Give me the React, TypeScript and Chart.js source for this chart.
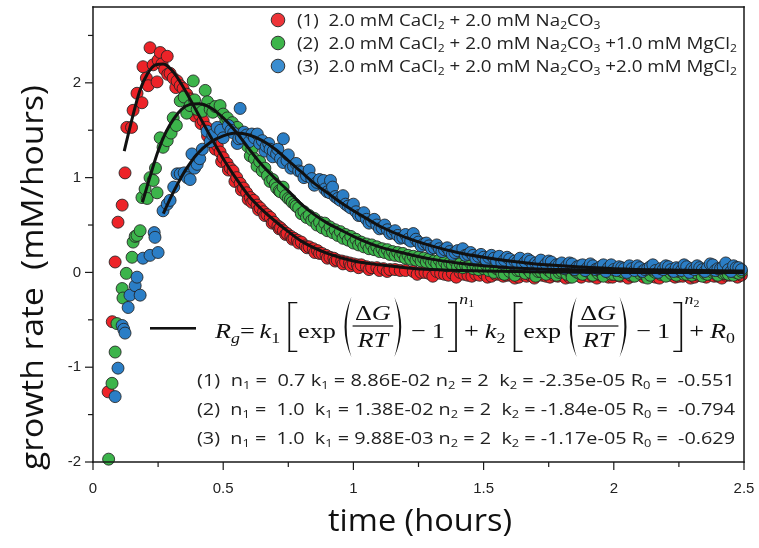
import React, { useEffect, useRef } from 'react';
import { Chart, registerables } from 'chart.js';
Chart.register(...registerables);

const W = 759;
const H = 548;

const xMajorTicks = [0, 0.5, 1, 1.5, 2, 2.5];
const xMinorTicks = [0.25, 0.75, 1.25, 1.75, 2.25];
const yMajorTicks = [-2, -1, 0, 1, 2];
const yMinorTicks = [-1.5, -0.5, 0.5, 1.5, 2.5];

const xTitle = 'time (hours)';
const yTitle = 'growth rate  (mM/hours)';

const seriesLabels = [
  '(1)  2.0 mM CaCl_2 + 2.0 mM Na_2CO_3',
  '(2)  2.0 mM CaCl_2 + 2.0 mM Na_2CO_3 +1.0 mM MgCl_2',
  '(3)  2.0 mM CaCl_2 + 2.0 mM Na_2CO_3 +2.0 mM MgCl_2',
];
const seriesColors = ['#ED2328', '#3CB44B', '#2B7EC6'];
const legendColors = ['#ED3438', '#3DB54A', '#3A8DD0'];

const paramLines = [
  '(1)  n_1 =  0.7 k_1 = 8.86E-02 n_2 = 2  k_2 = -2.35e-05 R_0 =  -0.551',
  '(2)  n_1 =  1.0  k_1 = 1.38E-02 n_2 = 2  k_2 = -1.84e-05 R_0 =  -0.794',
  '(3)  n_1 =  1.0  k_1 = 9.88E-03 n_2 = 2  k_2 = -1.17e-05 R_0 =  -0.629',
];

// [time, rate]
const redPoints: [number, number][] = [
  [0.058, -1.26], [0.074, -0.52], [0.085, 0.11], [0.096, 0.53], [0.112, 0.71], [0.123, 1.05],
  [0.13, 1.53], [0.148, 1.53], [0.154, 1.71], [0.169, 1.89], [0.188, 1.79], [0.192, 2.17],
  [0.205, 2.05], [0.212, 1.97], [0.219, 2.37], [0.231, 2.19], [0.246, 2.01], [0.25, 2.24],
  [0.258, 2.32], [0.265, 2.2], [0.275, 2.14], [0.285, 2.28], [0.287, 2.09], [0.296, 2.1],
  [0.308, 2.05], [0.318, 1.95], [0.323, 2.02], [0.335, 1.97], [0.346, 1.94], [0.352, 1.86],
  [0.36, 1.88], [0.368, 1.78], [0.373, 1.83], [0.386, 1.76], [0.392, 1.65], [0.4, 1.71],
  [0.41, 1.66], [0.415, 1.57], [0.423, 1.6], [0.436, 1.53], [0.44, 1.44], [0.45, 1.47],
  [0.463, 1.4], [0.47, 1.3], [0.477, 1.34], [0.488, 1.27], [0.494, 1.17], [0.5, 1.21],
  [0.515, 1.15], [0.52, 1.08], [0.527, 1.1], [0.538, 1.07], [0.545, 0.96], [0.552, 1.0],
  [0.565, 0.94], [0.57, 0.87], [0.578, 0.89], [0.59, 0.84], [0.596, 0.77], [0.604, 0.79],
  [0.61, 0.74], [0.617, 0.76], [0.63, 0.71], [0.636, 0.66], [0.642, 0.68], [0.655, 0.64],
  [0.66, 0.6], [0.668, 0.61], [0.681, 0.58], [0.688, 0.52], [0.695, 0.53], [0.71, 0.49],
  [0.715, 0.46], [0.72, 0.47], [0.731, 0.44], [0.74, 0.4], [0.745, 0.41], [0.76, 0.38],
  [0.766, 0.35], [0.772, 0.36], [0.785, 0.34], [0.79, 0.31], [0.8, 0.32], [0.815, 0.28],
  [0.822, 0.26], [0.83, 0.27], [0.846, 0.25], [0.852, 0.21], [0.862, 0.23], [0.87, 0.2],
  [0.88, 0.2], [0.895, 0.18], [0.9, 0.15], [0.91, 0.16], [0.925, 0.15], [0.93, 0.12],
  [0.938, 0.13], [0.955, 0.12], [0.96, 0.09], [0.97, 0.11], [0.985, 0.1], [0.99, 0.07],
  [1.0, 0.09], [1.015, 0.08], [1.02, 0.05], [1.03, 0.08], [1.05, 0.06], [1.06, 0.03],
  [1.07, 0.05], [1.09, 0.05], [1.1, 0.02], [1.115, 0.04], [1.13, 0.01], [1.14, 0.03],
  [1.16, 0.03], [1.18, 0.02], [1.2, 0.02],
  [1.23, 0.01], [1.245, -0.02], [1.26, 0.0], [1.275, 0.0], [1.29, -0.01], [1.305, -0.04],
  [1.32, 0.01], [1.335, -0.01], [1.35, -0.02], [1.365, -0.03], [1.38, -0.01], [1.395, -0.05],
  [1.41, 0.0], [1.425, -0.02], [1.44, -0.03], [1.455, -0.04], [1.47, -0.02], [1.485, -0.03],
  [1.5, -0.01], [1.515, -0.05], [1.53, -0.04], [1.545, -0.02], [1.56, -0.02], [1.575, -0.04],
  [1.59, -0.03], [1.605, -0.03], [1.62, -0.06], [1.635, -0.05], [1.65, -0.02], [1.665, -0.04],
  [1.68, -0.03], [1.695, -0.06], [1.71, -0.01], [1.725, -0.03], [1.74, -0.04], [1.755, -0.05],
  [1.77, -0.03], [1.785, -0.04], [1.8, -0.02], [1.815, -0.06], [1.83, -0.05], [1.845, -0.03],
  [1.86, -0.03], [1.875, -0.05], [1.89, -0.02], [1.905, -0.04], [1.92, -0.04], [1.935, -0.06],
  [1.95, -0.03], [1.965, -0.03], [1.98, -0.05], [1.995, -0.05], [2.01, -0.02], [2.025, -0.04],
  [2.04, -0.03], [2.055, -0.06], [2.07, -0.04], [2.085, -0.03], [2.1, -0.02], [2.115, -0.05],
  [2.13, -0.03], [2.145, -0.04], [2.16, -0.05], [2.175, -0.06], [2.19, -0.02], [2.205, -0.03],
  [2.22, -0.03], [2.235, -0.05], [2.25, -0.04], [2.265, -0.04], [2.28, -0.02], [2.295, -0.06],
  [2.31, -0.05], [2.325, -0.03], [2.34, -0.03], [2.355, -0.05], [2.37, -0.02], [2.385, -0.04],
  [2.4, -0.04], [2.415, -0.06], [2.43, -0.03], [2.445, -0.03], [2.46, -0.02], [2.475, -0.05],
  [2.49, -0.03],
];

const greenPoints: [number, number][] = [
  [0.06, -1.97], [0.073, -1.17], [0.085, -0.84], [0.092, -0.54], [0.112, -0.17], [0.115, -0.27],
  [0.128, -0.01], [0.15, 0.16], [0.154, 0.32], [0.162, 0.38], [0.169, 0.39], [0.181, 0.44],
  [0.188, 0.79], [0.2, 0.88], [0.208, 0.78], [0.219, 1.0], [0.231, 0.97], [0.24, 1.1],
  [0.246, 0.84], [0.258, 1.42], [0.269, 1.32], [0.285, 1.39], [0.3, 1.47], [0.308, 1.63],
  [0.32, 1.55], [0.335, 1.81], [0.35, 1.85], [0.36, 1.68], [0.373, 1.76], [0.385, 2.02],
  [0.39, 1.82], [0.4, 1.72], [0.42, 1.7], [0.431, 1.92], [0.44, 1.8], [0.45, 1.72],
  [0.46, 1.69], [0.47, 1.75], [0.488, 1.76], [0.5, 1.67], [0.51, 1.6], [0.516, 1.63],
  [0.525, 1.55], [0.535, 1.58], [0.545, 1.5], [0.554, 1.53], [0.56, 1.46], [0.57, 1.45],
  [0.58, 1.41], [0.59, 1.38], [0.594, 1.33], [0.604, 1.23], [0.61, 1.3], [0.62, 1.2],
  [0.63, 1.12], [0.64, 1.17], [0.65, 1.07], [0.66, 1.1], [0.67, 1.02], [0.68, 0.96],
  [0.69, 0.98], [0.7, 0.93], [0.705, 0.89], [0.715, 0.86], [0.72, 0.85], [0.73, 0.9],
  [0.74, 0.81], [0.75, 0.78], [0.758, 0.77], [0.765, 0.74], [0.775, 0.72], [0.78, 0.7],
  [0.79, 0.68], [0.8, 0.62], [0.81, 0.64], [0.82, 0.58], [0.83, 0.6], [0.84, 0.55],
  [0.85, 0.57], [0.86, 0.5], [0.87, 0.53], [0.88, 0.47], [0.89, 0.52], [0.9, 0.44],
  [0.91, 0.48], [0.92, 0.42], [0.93, 0.45], [0.94, 0.39], [0.95, 0.43], [0.96, 0.36],
  [0.97, 0.4], [0.98, 0.34], [0.99, 0.38], [1.0, 0.31], [1.01, 0.35], [1.02, 0.29],
  [1.03, 0.32], [1.04, 0.27], [1.05, 0.3], [1.06, 0.25], [1.07, 0.29], [1.08, 0.24],
  [1.09, 0.27], [1.1, 0.22], [1.11, 0.25], [1.12, 0.21], [1.13, 0.24], [1.14, 0.19],
  [1.15, 0.22], [1.16, 0.18], [1.17, 0.21], [1.18, 0.17], [1.19, 0.2], [1.2, 0.15],
  [1.21, 0.18], [1.22, 0.14], [1.23, 0.17], [1.24, 0.13], [1.25, 0.16], [1.26, 0.12],
  [1.27, 0.15], [1.28, 0.11], [1.29, 0.14], [1.3, 0.1], [1.31, 0.12], [1.32, 0.09],
  [1.33, 0.13], [1.34, 0.08], [1.35, 0.11], [1.36, 0.07], [1.37, 0.1], [1.38, 0.08],
  [1.39, 0.12], [1.4, 0.06], [1.41, 0.09], [1.42, 0.05], [1.43, 0.08], [1.44, 0.06],
  [1.45, 0.1], [1.46, 0.04], [1.47, 0.07], [1.48, 0.03], [1.49, 0.06], [1.5, 0.04],
  [1.51, 0.08], [1.52, 0.02], [1.53, 0.05], [1.54, 0.0], [1.55, 0.04], [1.56, 0.03],
  [1.57, -0.01], [1.58, -0.02], [1.59, 0.06], [1.6, 0.01], [1.61, 0.04], [1.62, -0.03],
  [1.63, 0.02], [1.64, 0.02], [1.65, 0.05], [1.66, -0.01], [1.67, 0.03], [1.68, 0.0],
  [1.69, 0.04], [1.7, -0.04], [1.71, 0.01], [1.72, 0.01], [1.73, 0.03], [1.74, -0.02],
  [1.75, 0.02], [1.76, 0.0], [1.77, 0.04], [1.78, -0.03], [1.79, 0.0], [1.8, 0.01],
  [1.81, 0.03], [1.82, -0.02], [1.83, 0.01], [1.84, -0.05], [1.85, 0.02], [1.86, 0.0],
  [1.87, -0.01], [1.88, -0.02], [1.89, 0.03], [1.9, 0.01], [1.91, 0.01], [1.92, -0.03],
  [1.93, 0.02], [1.94, -0.01], [1.95, 0.0], [1.96, -0.04], [1.97, 0.03], [1.98, 0.0],
  [1.99, -0.02], [2.0, -0.02], [2.01, 0.02], [2.02, -0.03], [2.03, 0.01], [2.04, 0.0],
  [2.05, 0.03], [2.06, -0.02], [2.07, -0.01], [2.08, -0.04], [2.09, 0.02], [2.1, -0.01],
  [2.11, 0.0], [2.12, -0.02], [2.13, -0.06], [2.14, -0.03], [2.15, 0.02], [2.16, 0.0],
  [2.17, 0.01], [2.18, -0.02], [2.19, -0.01], [2.2, -0.04], [2.21, 0.02], [2.22, -0.01],
  [2.23, 0.0], [2.24, -0.03], [2.25, 0.01], [2.26, 0.0], [2.27, -0.02], [2.28, -0.02],
  [2.29, 0.02], [2.3, -0.03], [2.31, 0.0], [2.32, -0.01], [2.33, 0.01], [2.34, -0.04],
  [2.35, -0.01], [2.36, -0.02], [2.37, 0.02], [2.38, 0.0], [2.39, 0.0], [2.4, -0.03],
  [2.41, 0.01], [2.42, -0.01], [2.43, -0.01], [2.44, -0.02], [2.45, 0.02], [2.46, -0.03],
  [2.47, 0.0], [2.48, -0.01], [2.49, 0.01],
];

const bluePoints: [number, number][] = [
  [0.085, -1.31], [0.096, -1.01], [0.112, -0.56], [0.118, -0.6], [0.123, -0.64], [0.135, -0.37],
  [0.142, -0.24], [0.162, -0.14], [0.169, -0.05], [0.181, -0.24], [0.192, 0.15], [0.219, 0.18],
  [0.235, 0.42], [0.238, 0.37], [0.25, 0.21], [0.269, 0.65], [0.285, 0.72], [0.296, 0.76],
  [0.31, 0.9], [0.323, 1.04], [0.335, 1.04], [0.35, 1.05], [0.362, 1.0], [0.373, 0.98],
  [0.38, 1.25], [0.39, 1.1], [0.4, 1.14], [0.41, 1.2], [0.42, 1.3], [0.438, 1.49],
  [0.45, 1.38], [0.46, 1.45], [0.477, 1.53], [0.49, 1.5], [0.5, 1.42], [0.52, 1.55],
  [0.53, 1.5], [0.54, 1.47], [0.554, 1.36], [0.56, 1.41], [0.565, 1.73], [0.57, 1.42],
  [0.58, 1.48], [0.59, 1.45], [0.6, 1.38], [0.61, 1.46], [0.62, 1.42], [0.631, 1.46],
  [0.64, 1.36], [0.65, 1.39], [0.66, 1.28], [0.665, 1.33], [0.675, 1.36], [0.68, 1.3],
  [0.69, 1.22], [0.692, 1.28], [0.705, 1.25], [0.71, 1.3], [0.72, 1.2], [0.73, 1.16],
  [0.731, 1.41], [0.745, 1.18], [0.75, 1.24], [0.76, 1.1], [0.77, 1.12], [0.78, 1.15],
  [0.79, 1.07], [0.8, 1.06], [0.81, 1.0], [0.82, 1.02], [0.83, 1.08], [0.84, 0.99],
  [0.85, 0.92], [0.86, 0.95], [0.87, 0.98], [0.885, 0.97], [0.89, 0.88], [0.9, 0.85],
  [0.91, 0.84], [0.912, 0.97], [0.92, 0.9], [0.93, 0.8], [0.94, 0.78], [0.95, 0.76],
  [0.96, 0.81], [0.97, 0.72], [0.98, 0.7], [0.99, 0.68], [1.0, 0.72], [1.01, 0.64],
  [1.02, 0.6], [1.03, 0.6], [1.04, 0.63], [1.05, 0.56], [1.06, 0.52], [1.07, 0.54],
  [1.08, 0.56], [1.09, 0.5], [1.1, 0.46], [1.11, 0.47], [1.12, 0.5], [1.13, 0.45],
  [1.14, 0.41], [1.15, 0.42], [1.16, 0.44], [1.17, 0.39], [1.18, 0.36], [1.19, 0.37],
  [1.2, 0.4], [1.21, 0.35], [1.22, 0.33], [1.23, 0.41], [1.24, 0.35], [1.25, 0.32],
  [1.26, 0.28], [1.27, 0.3], [1.28, 0.31], [1.29, 0.28], [1.3, 0.25], [1.31, 0.26],
  [1.32, 0.29], [1.33, 0.25], [1.34, 0.22], [1.35, 0.24], [1.36, 0.26], [1.37, 0.22],
  [1.38, 0.19], [1.39, 0.21], [1.4, 0.23], [1.42, 0.25], [1.43, 0.18], [1.44, 0.19],
  [1.45, 0.21], [1.46, 0.18], [1.47, 0.15], [1.48, 0.17], [1.49, 0.19], [1.5, 0.16],
  [1.51, 0.13], [1.52, 0.16], [1.53, 0.18], [1.54, 0.15], [1.55, 0.12], [1.56, 0.17],
  [1.57, 0.1], [1.58, 0.13], [1.59, 0.16], [1.6, 0.14], [1.61, 0.09], [1.62, 0.12],
  [1.63, 0.11], [1.64, 0.15], [1.65, 0.08], [1.66, 0.11], [1.67, 0.14], [1.68, 0.12],
  [1.69, 0.07], [1.7, 0.1], [1.71, 0.09], [1.72, 0.13], [1.73, 0.06], [1.74, 0.09],
  [1.75, 0.12], [1.76, 0.11], [1.77, 0.05], [1.78, 0.08], [1.79, 0.08], [1.8, 0.1],
  [1.81, 0.04], [1.82, 0.07], [1.83, 0.1], [1.84, 0.09], [1.85, 0.03], [1.86, 0.06],
  [1.87, 0.07], [1.88, 0.08], [1.89, 0.02], [1.9, 0.05], [1.91, 0.09], [1.92, 0.07],
  [1.93, 0.03], [1.94, 0.04], [1.95, 0.06], [1.96, 0.08], [1.97, 0.01], [1.98, 0.05],
  [1.99, 0.08], [2.0, 0.03], [2.01, 0.02], [2.02, 0.06], [2.03, 0.05], [2.04, 0.04],
  [2.05, 0.0], [2.06, 0.07], [2.07, 0.04], [2.08, 0.02], [2.09, 0.07], [2.1, 0.05],
  [2.11, 0.01], [2.12, 0.03], [2.13, 0.04], [2.14, 0.06], [2.15, 0.08], [2.16, 0.02],
  [2.17, 0.0], [2.18, 0.04], [2.19, 0.03], [2.2, 0.07], [2.21, 0.06], [2.22, 0.03],
  [2.23, 0.01], [2.24, 0.05], [2.25, 0.04], [2.26, 0.02], [2.27, 0.08], [2.28, 0.06],
  [2.29, 0.0], [2.3, 0.04], [2.31, 0.03], [2.32, 0.07], [2.33, 0.05], [2.34, 0.03],
  [2.35, 0.01], [2.36, 0.05], [2.37, 0.09], [2.38, 0.08], [2.39, 0.02], [2.4, 0.04],
  [2.41, 0.04], [2.42, 0.06], [2.43, 0.1], [2.44, 0.03], [2.45, 0.01], [2.46, 0.07],
  [2.47, 0.05], [2.48, 0.05], [2.49, 0.03],
];

const redFit: [number, number][] = [
  [0.12, 1.28], [0.15, 1.62], [0.18, 1.92], [0.21, 2.1], [0.24, 2.19], [0.27, 2.2],
  [0.3, 2.14], [0.33, 2.03], [0.36, 1.89], [0.4, 1.69], [0.45, 1.44], [0.5, 1.2],
  [0.55, 0.99], [0.6, 0.8], [0.65, 0.66], [0.7, 0.54], [0.75, 0.43], [0.8, 0.33],
  [0.9, 0.2], [1.0, 0.12], [1.1, 0.08], [1.2, 0.05], [1.3, 0.03], [1.5, 0.015],
  [1.75, 0.005], [2.0, 0.0], [2.5, 0.0],
];
const greenFit: [number, number][] = [
  [0.19, 0.74], [0.22, 1.02], [0.25, 1.28], [0.28, 1.48], [0.31, 1.62], [0.34, 1.72],
  [0.37, 1.77], [0.41, 1.78], [0.45, 1.74], [0.5, 1.63], [0.55, 1.48], [0.6, 1.3],
  [0.65, 1.13], [0.7, 0.99], [0.75, 0.86], [0.8, 0.72], [0.85, 0.61], [0.9, 0.52],
  [0.95, 0.45], [1.0, 0.38], [1.05, 0.32], [1.1, 0.27], [1.2, 0.2], [1.3, 0.14],
  [1.4, 0.1], [1.5, 0.07], [1.6, 0.05], [1.8, 0.03], [2.0, 0.02], [2.25, 0.01], [2.5, 0.01],
];
const blueFit: [number, number][] = [
  [0.27, 0.62], [0.3, 0.8], [0.33, 0.96], [0.36, 1.1], [0.4, 1.25], [0.45, 1.37],
  [0.5, 1.44], [0.55, 1.47], [0.6, 1.45], [0.65, 1.39], [0.7, 1.3], [0.75, 1.18],
  [0.8, 1.06], [0.85, 0.94], [0.9, 0.84], [0.95, 0.74], [1.0, 0.65], [1.05, 0.57],
  [1.1, 0.49], [1.2, 0.37], [1.3, 0.28], [1.4, 0.21], [1.5, 0.16], [1.6, 0.12],
  [1.7, 0.09], [1.8, 0.07], [2.0, 0.04], [2.2, 0.025], [2.5, 0.015],
];

const SANS = '"Open Sans", "Noto Sans", sans-serif';
const SERIF = '"Liberation Serif", "DejaVu Serif", serif';

type Seg = { t: string; sub: boolean };
function parseRich(s: string): Seg[] {
  const out: Seg[] = [];
  let buf = '';
  for (let i = 0; i < s.length; i++) {
    if (s[i] === '_' && i + 1 < s.length) {
      if (buf) out.push({ t: buf, sub: false });
      buf = '';
      out.push({ t: s[i + 1], sub: true });
      i++;
    } else buf += s[i];
  }
  if (buf) out.push({ t: buf, sub: false });
  return out;
}

function richWidth(ctx: CanvasRenderingContext2D, s: string, size: number) {
  let w = 0;
  for (const seg of parseRich(s)) {
    ctx.font = `${seg.sub ? Math.round(size * 0.62) : size}px ${SANS}`;
    w += ctx.measureText(seg.t).width;
  }
  return w;
}

function drawRich(ctx: CanvasRenderingContext2D, s: string, x: number, y: number, size: number, sx: number) {
  ctx.save();
  ctx.translate(x, y);
  ctx.scale(sx, 1);
  let cx = 0;
  for (const seg of parseRich(s)) {
    ctx.font = `${seg.sub ? Math.round(size * 0.62) : size}px ${SANS}`;
    ctx.fillText(seg.t, cx, seg.sub ? size * 0.16 : 0);
    cx += ctx.measureText(seg.t).width;
  }
  ctx.restore();
}

function drawFitted(ctx: CanvasRenderingContext2D, s: string, x: number, y: number, size: number, width: number) {
  ctx.font = `${size}px ${SANS}`;
  const w = ctx.measureText(s).width;
  ctx.save();
  ctx.translate(x, y);
  ctx.scale(width / w, 1);
  ctx.fillText(s, 0, 0);
  ctx.restore();
}

function drawEquation(ctx: CanvasRenderingContext2D, left: number, right: number, base: number) {
  const S = 22;
  const axis = base - 12;
  type Tok = { w: number; draw: (x: number) => void };
  const toks: Tok[] = [];
  const font = (size: number, italic: boolean) => `${italic ? 'italic ' : ''}${size}px ${SERIF}`;
  const txt = (s: string, size: number, italic: boolean, dy = 0) => {
    ctx.font = font(size, italic);
    const w = ctx.measureText(s).width;
    toks.push({ w, draw: (x) => { ctx.font = font(size, italic); ctx.fillText(s, x, base + dy); } });
  };
  const gap = (w: number) => toks.push({ w, draw: () => {} });
  const bracket = (open: boolean) => toks.push({
    w: 9,
    draw: (x) => {
      const top = axis - 24, bot = axis + 26;
      const vx = open ? x + 2 : x + 6.6;
      const ex = open ? x + 8 : x + 0.6;
      ctx.fillRect(vx, top, 1.4, bot - top);
      ctx.fillRect(Math.min(vx, ex), top, Math.abs(ex - vx) + 1.4, 1.3);
      ctx.fillRect(Math.min(vx, ex), bot - 1.3, Math.abs(ex - vx) + 1.4, 1.3);
    },
  });
  const paren = (open: boolean) => toks.push({
    w: 10,
    draw: (x) => {
      const top = axis - 29, bot = axis + 31, mid = (top + bot) / 2;
      ctx.beginPath();
      if (open) {
        ctx.moveTo(x + 9, top);
        ctx.quadraticCurveTo(x - 2.5, mid, x + 9, bot);
        ctx.quadraticCurveTo(x + 1, mid, x + 9, top);
      } else {
        ctx.moveTo(x + 1, top);
        ctx.quadraticCurveTo(x + 12.5, mid, x + 1, bot);
        ctx.quadraticCurveTo(x + 9, mid, x + 1, top);
      }
      ctx.fill();
    },
  });
  const frac = () => {
    ctx.font = font(S, false);
    const wD = ctx.measureText('Δ').width;
    ctx.font = font(S, true);
    const wG = ctx.measureText('G').width;
    const wRT = ctx.measureText('RT').width;
    const wn = wD + wG;
    const w = Math.max(wn, wRT) + 4;
    toks.push({
      w,
      draw: (x) => {
        const nx = x + (w - wn) / 2;
        ctx.font = font(S, false);
        ctx.fillText('Δ', nx, axis - 6);
        ctx.font = font(S, true);
        ctx.fillText('G', nx + wD, axis - 6);
        ctx.fillText('RT', x + (w - wRT) / 2, axis + 21);
        ctx.fillRect(x, axis - 0.6, w, 1.2);
      },
    });
  };
  const sup = (n: string) => toks.push({
    w: 2,
    draw: (x) => {
      ctx.font = font(15, true);
      ctx.fillText('n', x + 1, axis - 22);
      const wn = ctx.measureText('n').width;
      ctx.font = font(10, false);
      ctx.fillText(n, x + 1 + wn, axis - 19);
    },
  });

  txt('R', S, true); txt('g', 15, true, 5); txt('=', S, false); gap(4);
  txt('k', S, true); txt('1', 15, false, 5); gap(5);
  bracket(true); gap(1); txt('exp', S, false); gap(4); paren(true); frac(); paren(false);
  gap(5); txt('−', S, false); gap(5); txt('1', S, false); gap(2); bracket(false); sup('1');
  gap(3); txt('+', S, false); gap(5); txt('k', S, true); txt('2', 15, false, 5); gap(5);
  bracket(true); gap(1); txt('exp', S, false); gap(4); paren(true); frac(); paren(false);
  gap(5); txt('−', S, false); gap(5); txt('1', S, false); gap(2); bracket(false); sup('2');
  gap(3); txt('+', S, false); gap(5); txt('R', S, true); txt('0', 15, false, 5);

  const total = toks.reduce((a, t) => a + t.w, 0);
  const sx = (right - left) / total;
  ctx.save();
  ctx.translate(left, 0);
  ctx.scale(sx, 1);
  let cx = 0;
  for (const t of toks) { t.draw(cx); cx += t.w; }
  ctx.restore();
}

const decorPlugin = {
  id: 'decorFrame',
  afterDraw(chart: any) {
    const ctx: CanvasRenderingContext2D = chart.ctx;
    const xs = chart.scales.x;
    const ys = chart.scales.y;
    const a = chart.chartArea;

    ctx.save();
    ctx.fillStyle = '#111';
    ctx.textBaseline = 'alphabetic';
    ctx.textAlign = 'left';
    drawFitted(ctx, xTitle, 328, 531, 31, 184);
    ctx.save();
    ctx.translate(43, 470);
    ctx.rotate(-Math.PI / 2);
    drawFitted(ctx, yTitle, 0, 0, 31, 385);
    ctx.restore();

    const lsize = 17;
    const sxL = 440 / richWidth(ctx, seriesLabels[1], lsize);
    seriesLabels.forEach((lab, i) => {
      const cy = 20 + i * 23;
      ctx.beginPath();
      ctx.arc(278, cy, 6.8, 0, Math.PI * 2);
      ctx.fillStyle = legendColors[i];
      ctx.fill();
      ctx.lineWidth = 1;
      ctx.strokeStyle = '#333';
      ctx.stroke();
      ctx.fillStyle = '#222';
      drawRich(ctx, lab, 297, cy + 6, lsize, sxL);
    });

    ctx.fillStyle = '#111';
    ctx.fillRect(150, 327, 46, 2.6);
    drawEquation(ctx, 215, 735, 338);

    ctx.fillStyle = '#222';
    paramLines.forEach((line, i) => {
      const size = 17;
      const sx = 538 / richWidth(ctx, line, size);
      drawRich(ctx, line, 197, 386 + i * 29, size, sx);
    });
    ctx.restore();

    ctx.save();
    ctx.fillStyle = '#1a1a1a';
    const L = a.left, R = a.right, T = a.top, B = a.bottom;
    ctx.fillRect(L - 0.75, T - 0.75, R - L + 1.5, 1.5);
    ctx.fillRect(L - 0.75, B - 0.75, R - L + 1.5, 1.5);
    ctx.fillRect(L - 0.75, T - 0.75, 1.5, B - T + 1.5);
    ctx.fillRect(R - 0.75, T - 0.75, 1.5, B - T + 1.5);
    xMajorTicks.forEach((v) => { const p = xs.getPixelForValue(v); ctx.fillRect(p - 0.6, B, 1.2, 8); });
    xMinorTicks.forEach((v) => { const p = xs.getPixelForValue(v); ctx.fillRect(p - 0.6, B, 1.2, 5); });
    yMajorTicks.forEach((v) => { const p = ys.getPixelForValue(v); ctx.fillRect(L - 8, p - 0.6, 8, 1.2); });
    yMinorTicks.forEach((v) => { const p = ys.getPixelForValue(v); ctx.fillRect(L - 5, p - 0.6, 5, 1.2); });
    ctx.restore();
  },
};

export default function App() {
  const ref = useRef<HTMLCanvasElement | null>(null);
  useEffect(() => {
    if (!ref.current) return;
    const toXY = (arr: [number, number][]) => arr.map(([t, v]) => ({ x: t, y: v }));
    const scatterDs = (pts: [number, number][], color: string, label: string, order: number) => ({
      label,
      order,
      data: toXY(pts),
      showLine: false,
      pointRadius: 6,
      pointBackgroundColor: color,
      pointBorderColor: 'rgba(35,35,35,0.85)',
      pointBorderWidth: 1,
      pointHoverRadius: 6,
      clip: false as any,
    });
    const fitDs = (pts: [number, number][], label: string) => ({
      label,
      order: 0,
      data: toXY(pts),
      showLine: true,
      pointRadius: 0,
      borderColor: '#111',
      borderWidth: 3,
      cubicInterpolationMode: 'monotone' as const,
      fill: false,
    });
    const tickFont = { family: '"Liberation Sans", Arial, sans-serif', size: 15 };
    const chart = new Chart(ref.current, {
      type: 'scatter',
      data: {
        datasets: [
          scatterDs(redPoints, seriesColors[0], seriesLabels[0], 3),
          scatterDs(greenPoints, seriesColors[1], seriesLabels[1], 2),
          scatterDs(bluePoints, seriesColors[2], seriesLabels[2], 1),
          fitDs(redFit, 'fit 1'),
          fitDs(greenFit, 'fit 2'),
          fitDs(blueFit, 'fit 3'),
        ] as any,
      },
      options: {
        responsive: false,
        animation: false,
        layout: { padding: { left: 0, right: 15, top: 6, bottom: 0 } },
        plugins: { legend: { display: false }, tooltip: { enabled: false } },
        events: [],
        scales: {
          x: {
            type: 'linear',
            min: 0,
            max: 2.5,
            ticks: { stepSize: 0.5, font: tickFont, color: '#222', padding: 18, maxRotation: 0, includeBounds: false, callback: (v: any) => String(v) },
            grid: { display: false, drawTicks: false },
            border: { display: false },
            afterFit: (s: any) => { s.height = 86; s.paddingLeft = 0; s.paddingRight = 0; },
          },
          y: {
            type: 'linear',
            min: -2,
            max: 2.8,
            ticks: { stepSize: 1, font: tickFont, color: '#222', padding: 12, includeBounds: false, callback: (v: any) => String(v) },
            grid: { display: false, drawTicks: false },
            border: { display: false },
            afterFit: (s: any) => { s.width = 93; s.paddingTop = 0; s.paddingBottom = 0; },
          },
        },
      } as any,
      plugins: [decorPlugin],
    });
    return () => chart.destroy();
  }, []);
  return (
    <div style={{ position: 'absolute', left: 0, top: 0, width: W, height: H, background: '#fff' }}>
      <canvas ref={ref} width={W} height={H} style={{ width: W, height: H, display: 'block' }} />
    </div>
  );
}
